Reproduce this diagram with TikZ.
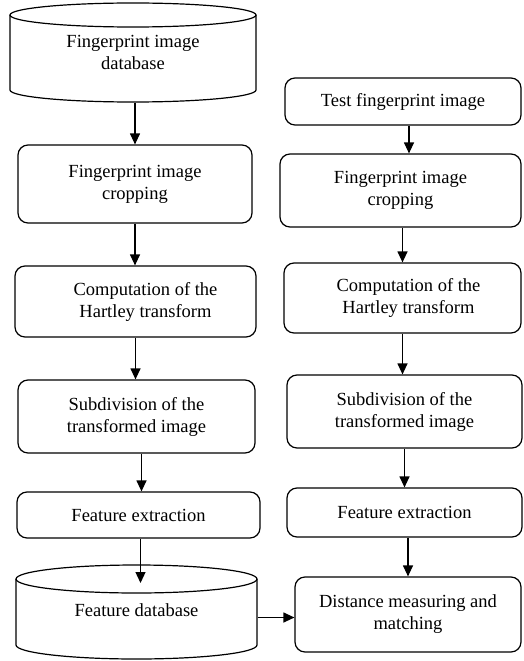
\documentclass[tikz,border=0pt]{standalone}
\usepackage{fontspec}
\setmainfont{Liberation Serif}
\usetikzlibrary{arrows.meta,calc}
\begin{document}
\begin{tikzpicture}[x=1pt,y=1pt,
  line width=1.2pt,
  every node/.style={font=\fontsize{18.5}{22}\selectfont, align=center, inner sep=0pt},
  box/.style={draw, rounded corners=10pt, rectangle},
  area/.style={rectangle},
  arr/.style={-{Triangle[length=11pt,width=10pt]}},
  cyl/.style={draw, line width=1.2pt}
]
\useasboundingbox (0,0) rectangle (523,-661);

% ---- left column ----
\node[area, minimum width=246, minimum height=99] (db) at (133,-52.5) {Fingerprint image\\database};
\draw[cyl] (133,-15) ellipse [x radius=123, y radius=12];
\draw[cyl] (10,-15) -- (10,-90) arc[start angle=180, end angle=360, x radius=123, y radius=12] -- (256,-15);

\node[box, minimum width=234, minimum height=78] (crop1) at (135,-184) {Fingerprint image\\cropping};
\node[box, minimum width=241, minimum height=71] (comp1) at (135.5,-301.5) {\hspace*{20pt}Computation of the\\\hspace*{20pt}Hartley transform};
\node[box, minimum width=237, minimum height=73] (sub1) at (136.5,-416.5) {Subdivision of the\\transformed image};
\node[box, minimum width=243, minimum height=46] (fe1) at (138.5,-515) {Feature extraction};

\node[area, minimum width=241, minimum height=95] (fdb) at (136.5,-612.5) {\raisebox{4pt}{Feature database}};
\draw[cyl] (136.5,-579) ellipse [x radius=120.5, y radius=14];
\draw[cyl] (16,-579) -- (16,-645) arc[start angle=180, end angle=360, x radius=120.5, y radius=14] -- (257,-579);
\coordinate (fdbtop) at (136.5,-583);

% ---- right column ----
\node[box, minimum width=236, minimum height=47] (test) at (403,-101.5) {Test fingerprint image};
\node[box, minimum width=241, minimum height=73] (crop2) at (400.5,-190.5) {Fingerprint image\\cropping};
\node[box, minimum width=237, minimum height=70] (comp2) at (402.5,-298) {\hspace*{12pt}Computation of the\\\hspace*{12pt}Hartley transform};
\node[box, minimum width=235, minimum height=73] (sub2) at (404.5,-411.5) {Subdivision of the\\transformed image};
\node[box, minimum width=235, minimum height=49] (fe2) at (404.5,-512.5) {Feature extraction};
\node[box, minimum width=226, minimum height=75] (dist) at (408,-614.5) {Distance measuring and\\matching};

% ---- arrows left ----
\draw[arr] (crop1.north |- db.south) -- (crop1.north);
\draw[arr] (crop1.south) -- (crop1.south |- comp1.north);
\draw[arr] (comp1.south) -- (comp1.south |- sub1.north);
\draw[arr] ([xshift=3pt]fe1.north |- sub1.south) -- ([xshift=3pt]fe1.north);
\draw[arr] ([xshift=2pt]fe1.south) -- ([xshift=2pt]fe1.south |- fdbtop);
\draw[arr] ([yshift=-3pt]dist.west -| fdb.east) -- ([yshift=-3pt]dist.west);

% ---- arrows right ----
\draw[arr] ([xshift=6pt]test.south) -- ([xshift=6pt]test.south |- crop2.north);
\draw[arr] (comp2.north |- crop2.south) -- (comp2.north);
\draw[arr] (comp2.south) -- (comp2.south |- sub2.north);
\draw[arr] (sub2.south) -- (sub2.south |- fe2.north);
\draw[arr] (dist.north |- fe2.south) -- (dist.north);
\end{tikzpicture}
\end{document}
